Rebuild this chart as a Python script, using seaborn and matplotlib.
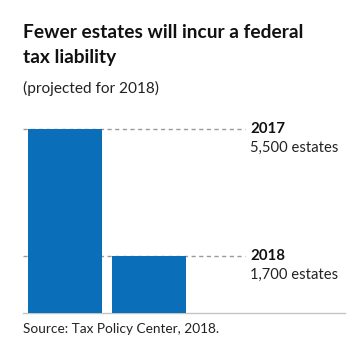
import matplotlib
matplotlib.use("Agg")
import matplotlib.pyplot as plt
import seaborn as sns
import pandas as pd

years = ["2017", "2018"]
estates = [5500, 1700]
value_labels = ["5,500 estates", "1,700 estates"]

title_lines = ["Fewer estates will incur a federal", "tax liability"]
subtitle = "(projected for 2018)"
source = "Source: Tax Policy Center, 2018."

sns.set_theme(style="white")
plt.rcParams['font.family'] = ['Lato', 'DejaVu Sans']

W, H = 350, 362
fig = plt.figure(figsize=(W/100, H/100), dpi=100)
ax_left, ax_right = 23, 345
ax_bottom, ax_top = 313, 120
ax = fig.add_axes([ax_left/W, 1 - ax_bottom/H, (ax_right-ax_left)/W, (ax_bottom-ax_top)/H])

df = pd.DataFrame({"year": years, "estates": estates})
sns.barplot(data=df, x="year", y="estates", color="#0a6fb8", width=0.886,
            saturation=1, ax=ax, edgecolor="none", zorder=3)

ymax = 5500 * (ax_bottom - ax_top) / (ax_bottom - 129)
ax.set_ylim(0, ymax)
ax.set_xlim(-0.503, 3.353)

for i, (v, y, lab) in enumerate(zip(estates, years, value_labels)):
    ax.plot([-0.503, 2.16], [v, v], color="#9a9a9a", lw=1, ls=(0, (3, 2.5)), zorder=1,
            clip_on=False)
    ax.text(2.22, v, y, fontsize=10.8, fontweight="bold", color="#111111",
            va="center", ha="left")
    ax.text(2.22, v - 5500*19/184, lab, fontsize=10.6, color="#222222",
            va="center", ha="left")

for s in ["top", "right", "left"]:
    ax.spines[s].set_visible(False)
ax.spines["bottom"].set_color("#c4c4c4")
ax.spines["bottom"].set_linewidth(1)
ax.set_xticks([])
ax.set_yticks([])
ax.set_xlabel("")
ax.set_ylabel("")

for line, yb in zip(title_lines, [38.5, 63]):
    fig.text(23/W, 1 - yb/H, line, fontsize=13.8, fontweight="bold", color="#111111",
             ha="left", va="baseline")
fig.text(23/W, 1 - 93/H, subtitle, fontsize=11.1, color="#222222", ha="left", va="baseline")
fig.text(23/W, 1 - 333/H, source, fontsize=9.8, color="#222222", ha="left", va="baseline")

fig.savefig("out.png", dpi=100)
